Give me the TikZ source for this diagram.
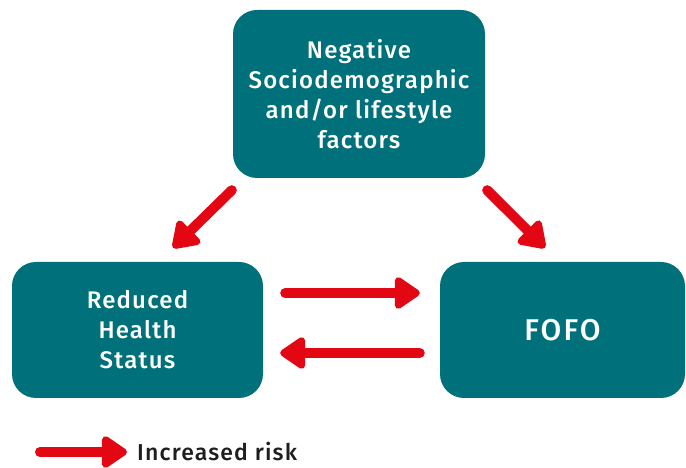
\documentclass[tikz,border=0pt]{standalone}
\usepackage{fontspec}
\setmainfont{Fira Sans}[BoldFont={Fira Sans Medium}, LetterSpace=5]
\usetikzlibrary{arrows.meta}
\definecolor{boxteal}{HTML}{00717A}
\definecolor{riskred}{HTML}{E30613}
\definecolor{keytext}{HTML}{1E1E1E}
\begin{document}
\begin{tikzpicture}[x=1pt, y=1pt,
	boxstyle/.style={rectangle, rounded corners=24pt, fill=boxteal,
		text=white, text centered, align=center, inner sep=0pt,
		font=\fontsize{24}{30}\selectfont\bfseries},
	riskstyle/.style={draw=riskred, line width=10pt, line cap=round,
		-{Triangle[length=28pt, width=36pt, round]}}]
	\useasboundingbox (0,0) rectangle (686,468);

	\node(top) [boxstyle, minimum width=252pt, minimum height=168pt] at (359,374)
		{Negative\\Sociodemographic\\and/or lifestyle\\factors};
	\node(health) [boxstyle, minimum width=251pt, minimum height=136pt] at (137.5,138)
		{Reduced\\Health\\Status};
	\node(fofo) [boxstyle, minimum width=245pt, minimum height=136pt,
		font=\fontsize{30}{36}\selectfont\bfseries\addfontfeature{LetterSpace=7}]
		at (562.5,138) {FOFO};

	\draw[riskstyle] ([shift={(-1,-12)}]top.south west) -- ([shift={(35.5,14)}]health.north);
	\draw[riskstyle] ([shift={(2,-12)}]top.south east) -- ([shift={(-17.5,14)}]fofo.north);
	\draw[riskstyle] ([shift={(22,37)}]health.east) -- ([shift={(-20,37)}]fofo.west);
	\draw[riskstyle] ([shift={(-20,-23)}]fofo.west) -- ([shift={(17,-23)}]health.east);

	% legend
	\coordinate (keyfrom) at (40,16);
	\coordinate (keyto) at (127,16);
	\draw[riskstyle] (keyfrom) -- (keyto);
	\node(keylabel) [anchor=west, text=keytext, inner sep=0pt,
		font=\fontsize{23}{26}\selectfont\bfseries] at (137,16) {Increased risk};
\end{tikzpicture}
\end{document}
